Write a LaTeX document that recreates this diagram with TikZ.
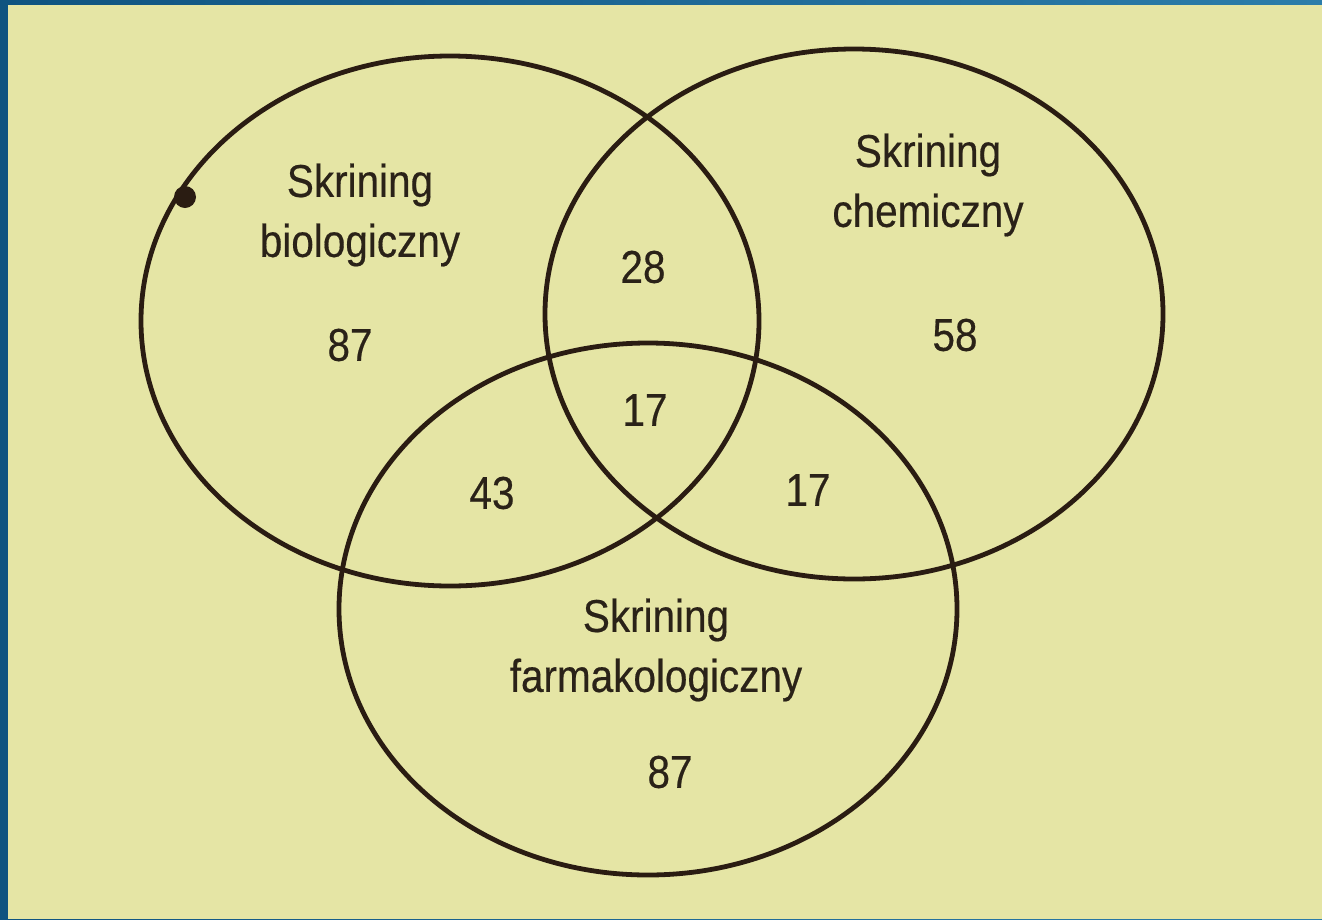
\documentclass[tikz,border=0pt]{standalone}
\usepackage{fontspec}
\setmainfont[FakeStretch=0.88,FakeBold=0.4]{Liberation Sans}
\begin{document}
\begin{tikzpicture}[x=1pt,y=-1pt,
  ring/.style={draw=inkc, line width=4.8pt},
  lbl/.style={font=\fontsize{46}{60}\selectfont, text=textc, inner sep=0pt, align=center},
  num/.style={font=\fontsize{46}{60}\selectfont, text=textc, inner sep=0pt}]
\definecolor{bgc}{HTML}{E5E5A5}
\definecolor{blueL}{HTML}{0F5380}
\definecolor{blueR}{HTML}{2C7DAA}
\definecolor{inkc}{HTML}{2A1C12}
\definecolor{textc}{HTML}{2A2218}
\useasboundingbox (0,0) rectangle (1322,919);
\shade[left color=blueL, right color=blueR] (0,0) rectangle (1322,919);
\fill[bgc] (8,5) rectangle (1322,919);
% circles
\draw[ring] (450,321) ellipse [x radius=309, y radius=265];
\draw[ring] (854,314) ellipse [x radius=309, y radius=265];
\draw[ring] (648,609) ellipse [x radius=309, y radius=266];
\fill[inkc] (185,197) circle [radius=11];
% labels
\node[lbl] (bio) at (360,215) {Skrining\\biologiczny};
\node[lbl] (chem) at (928,185) {Skrining\\chemiczny};
\node[lbl] (farm) at (656,650) {Skrining\\farmakologiczny};
\node[num] (n1) at (350,345) {87};
\node[num] (n2) at (955,335) {58};
\node[num] (n3) at (643,267) {28};
\node[num] (n4) at (645,410) {17};
\node[num] (n5) at (492,493) {43};
\node[num] (n6) at (808,490) {17};
\node[num] (n7) at (670,772) {87};
\end{tikzpicture}
\end{document}
